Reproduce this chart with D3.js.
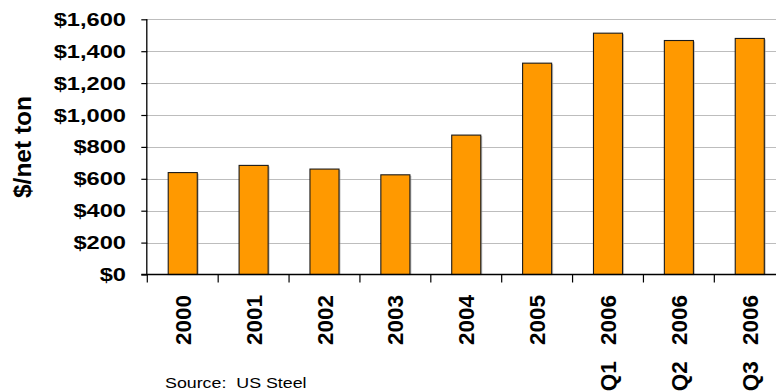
<!DOCTYPE html>
<html>
<head>
<meta charset="utf-8">
<script src="https://cdn.jsdelivr.net/npm/d3@7"></script>
<style>
  html, body { margin: 0; padding: 0; background: #fff; overflow: hidden; }
  svg { display: block; font-family: "Liberation Sans", Arial, sans-serif; }
</style>
</head>
<body>
<svg id="chart" width="776" height="391"></svg>
<script>
const categories = ["2000", "2001", "2002", "2003", "2004", "2005", "Q1 2006", "Q2 2006", "Q3 2006"];
const values = [639, 684, 661, 625, 874, 1325, 1513, 1467, 1480];
const yTicks = [0, 200, 400, 600, 800, 1000, 1200, 1400, 1600];
const yTitle = "$/net ton";
const sourceNote = "Source:  US Steel";

const svg = d3.select("#chart");
const plotLeft = 147.3, plotRight = 785.2, plotTop = 19.3, plotBottom = 274.5;

const x = d3.scaleBand().domain(categories).range([plotLeft, plotRight])
  .paddingInner(0.59).paddingOuter(0.295);
const step = (plotRight - plotLeft) / categories.length;
const y = d3.scaleLinear().domain([0, 1600]).range([plotBottom, plotTop]);

// gridlines
svg.append("g").selectAll("line").data(yTicks.filter(d => d > 0)).join("line")
  .attr("x1", plotLeft).attr("x2", 776)
  .attr("y1", d => Math.round(y(d)) + 0.5).attr("y2", d => Math.round(y(d)) + 0.5)
  .attr("stroke", "#BDBDBD").attr("stroke-width", 1);

// bars shadow
svg.append("g").selectAll("rect").data(values).join("rect")
  .attr("x", (d, i) => x(categories[i]) + 1.5)
  .attr("y", d => y(d) + 1)
  .attr("width", x.bandwidth())
  .attr("height", d => plotBottom - y(d) - 1)
  .attr("fill", "#9a9a9a").attr("opacity", 0.6);

// bars
svg.append("g").selectAll("rect").data(values).join("rect")
  .attr("x", (d, i) => x(categories[i]))
  .attr("y", d => y(d))
  .attr("width", x.bandwidth())
  .attr("height", d => plotBottom - y(d))
  .attr("fill", "#FF9900").attr("stroke", "#1a1a1a").attr("stroke-width", 1.1);

// y axis
const yAxis = svg.append("g").attr("transform", `translate(${plotLeft},0)`)
  .call(d3.axisLeft(y).tickValues(yTicks).tickSize(6).tickFormat(""));
yAxis.select(".domain").attr("d", `M-0.5,${plotTop}V${plotBottom}`).attr("stroke", "#000").attr("stroke-width", 1.3);
yAxis.selectAll(".tick line").attr("stroke", "#000").attr("stroke-width", 1.2);

svg.append("g").selectAll("text").data(yTicks).join("text")
  .attr("transform", d => `translate(126,${y(d)}) scale(1.3,1)`)
  .attr("dy", "0.36em")
  .attr("text-anchor", "end")
  .attr("font-weight", "bold").attr("font-size", 18.2)
  .text(d => "$" + d3.format(",")(d));

// x axis
svg.append("line").attr("x1", plotLeft - 6).attr("x2", 776)
  .attr("y1", plotBottom).attr("y2", plotBottom).attr("stroke", "#000").attr("stroke-width", 1.3);
const bounds = d3.range(categories.length + 1).map(i => plotLeft + i * step);
svg.append("g").selectAll("line").data(bounds).join("line")
  .attr("x1", d => d).attr("x2", d => d)
  .attr("y1", plotBottom).attr("y2", plotBottom + 8)
  .attr("stroke", "#000").attr("stroke-width", 1.2);

svg.append("g").selectAll("text").data(categories).join("text")
  .attr("transform", d => `translate(${x(d) + x.bandwidth() / 2},295) rotate(-90)`)
  .attr("dy", "0.36em")
  .attr("text-anchor", "end")
  .attr("font-weight", "bold").attr("font-size", 22.5)
  .attr("word-spacing", "10px")
  .text(d => d);

// y title
svg.append("text")
  .attr("transform", "translate(31,147) rotate(-90)")
  .attr("text-anchor", "middle")
  .attr("font-weight", "bold").attr("font-size", 24.5)
  .text(yTitle);

// source
svg.append("text")
  .attr("transform", "translate(165,387.5) scale(1.15,1)")
  .attr("font-size", 15.5)
  .style("white-space", "pre")
  .text(sourceNote);
</script>
</body>
</html>
